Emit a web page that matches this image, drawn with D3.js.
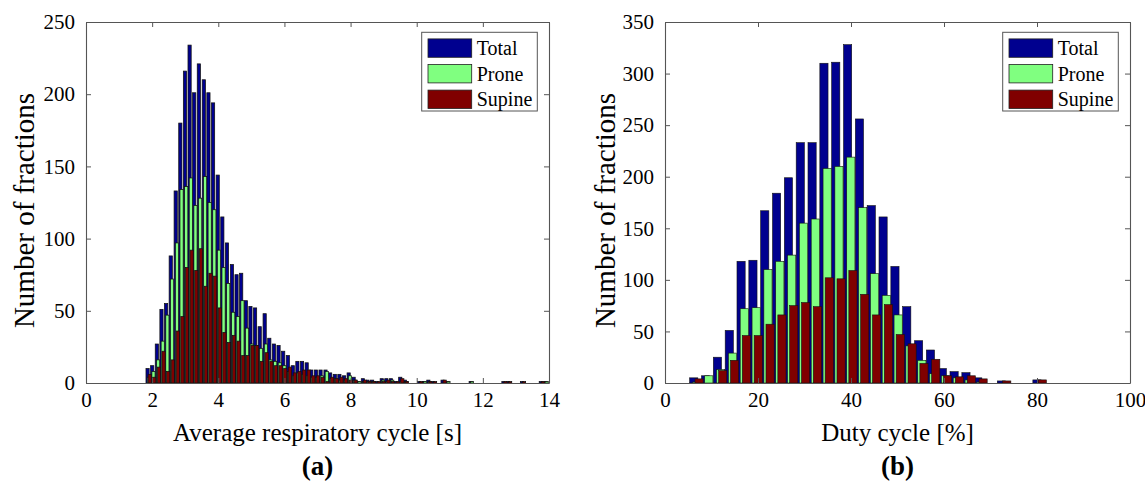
<!DOCTYPE html>
<html>
<head>
<meta charset="utf-8">
<script src="https://cdn.jsdelivr.net/npm/d3@7"></script>
<style>
  html, body { margin: 0; padding: 0; background: #fff; }
  svg { display: block; }
  text { font-family: "Liberation Serif", "Times New Roman", serif; fill: #000; }
</style>
</head>
<body>
<script>
// ---- Histogram of average respiratory cycle length (s) ----
const cycleCenters = [
  1.90, 2.04, 2.18, 2.32, 2.46, 2.60, 2.75, 2.89, 3.03, 3.17,
  3.31, 3.45, 3.60, 3.74, 3.88, 4.02, 4.16, 4.30, 4.45, 4.59,
  4.73, 4.87, 5.01, 5.15, 5.29, 5.44, 5.58, 5.72, 5.86, 6.00,
  6.14, 6.29, 6.43, 6.57, 6.71, 6.85, 6.99, 7.13, 7.28, 7.42,
  7.56, 7.70, 7.84, 7.98, 8.13, 8.27, 8.41, 8.55, 8.69, 8.83,
  8.98, 9.12, 9.26, 9.40, 9.54, 9.68, 9.83, 9.97, 10.11, 10.25,
  10.39, 10.53, 10.67, 10.82, 10.96, 11.10, 11.24, 11.38, 11.52, 11.67,
  11.81, 11.95, 12.09, 12.23, 12.37, 12.52, 12.66, 12.80, 12.94, 13.08,
  13.22, 13.36, 13.51, 13.65, 13.79, 13.93
];
const cycleTotal = [
  10, 12, 27, 51, 55, 88, 133, 180, 216, 234,
  201, 221, 210, 201, 194, 144, 115, 97, 82, 75,
  76, 57, 53, 52, 39, 48, 31, 27, 26, 22,
  19, 12, 15, 15, 14, 9, 9, 9, 9, 7,
  6, 6, 5, 7, 4, 1, 3, 2, 2, 1,
  3, 3, 3, 1, 4, 2, 0, 0, 1, 1,
  2, 1, 0, 2, 1, 0, 0, 0, 0, 1,
  0, 0, 0, 0, 0, 0, 1, 1, 0, 0,
  1, 0, 0, 0, 1, 1
];
const cycleProne = [
  4, 8, 16, 29, 47, 72, 97, 134, 136, 142,
  123, 128, 143, 125, 120, 92, 80, 69, 49, 46,
  57, 38, 27, 26, 24, 27, 16, 15, 14, 12,
  8, 5, 7, 6, 5, 4, 4, 5, 8, 3,
  3, 2, 2, 5, 2, 1, 1, 1, 1, 0,
  2, 1, 2, 0, 1, 1, 0, 0, 0, 1,
  1, 0, 0, 0, 1, 0, 0, 0, 0, 1,
  0, 0, 0, 0, 0, 0, 0, 0, 0, 0,
  0, 0, 0, 0, 0, 1
];
const cycleSupine = [
  6, 4, 11, 22, 8, 16, 36, 46, 80, 92,
  78, 93, 67, 76, 74, 52, 35, 28, 33, 29,
  19, 19, 26, 26, 15, 21, 15, 12, 12, 10,
  11, 7, 8, 9, 9, 5, 5, 4, 1, 4,
  3, 4, 3, 2, 2, 0, 2, 1, 1, 1,
  1, 2, 1, 1, 3, 1, 0, 0, 1, 0,
  1, 1, 0, 2, 0, 0, 0, 0, 0, 0,
  0, 0, 0, 0, 0, 0, 1, 1, 0, 0,
  1, 0, 0, 0, 1, 0
];

// ---- Histogram of duty cycle (%) ----
const dutyCenters = [
  6.87, 9.42, 11.96, 14.51, 17.05, 19.60, 22.14, 24.69, 27.23, 29.78,
  32.32, 34.87, 37.41, 39.96, 42.50, 45.05, 47.59, 50.14, 52.68, 55.23,
  57.77, 60.32, 62.86, 65.41, 67.95, 70.50, 73.04, 75.59, 78.13, 80.68
];
const dutyTotal = [
  5, 7, 25, 51, 118, 119, 167, 184, 199, 233,
  233, 310, 311, 328, 256, 172, 161, 113, 74, 41,
  32, 14, 11, 10, 5, 0, 2, 0, 0, 3
];
const dutyProne = [
  1, 7, 13, 29, 72, 73, 110, 118, 124, 155,
  159, 208, 210, 219, 170, 106, 85, 66, 36, 22,
  9, 7, 5, 3, 1, 0, 0, 0, 0, 0
];
const dutySupine = [
  4, 0, 12, 22, 46, 46, 57, 66, 75, 78,
  74, 102, 101, 109, 86, 66, 76, 47, 38, 19,
  23, 7, 6, 7, 4, 0, 2, 0, 0, 3
];

const seriesNames = ["Total", "Prone", "Supine"];
const seriesColors = ["#00008f", "#80ff80", "#800000"];

const cycleTicks = [0, 2, 4, 6, 8, 10, 12, 14];
const cycleCountTicks = [0, 50, 100, 150, 200, 250];
const dutyTicks = [0, 20, 40, 60, 80, 100];
const dutyCountTicks = [0, 50, 100, 150, 200, 250, 300, 350];

const W = 1145, H = 484;
const svg = d3.select("body").append("svg").attr("width", W).attr("height", H);

// Grouped bars: each series is shifted inside the bin and the bars overlap
const BAR_FRAC = 0.69;
const SERIES_SHIFT = [-0.27, 0, 0.18];

function panel(cfg) {
  const { left, right, top, bottom } = cfg.box;
  const x = d3.scaleLinear().domain(cfg.xDomain).range([left, right]);
  const y = d3.scaleLinear().domain(cfg.yDomain).range([bottom, top]);
  const g = svg.append("g");

  const step = x(cfg.centers[1]) - x(cfg.centers[0]);
  const bw = step * BAR_FRAC;

  // bars, series by series so later series sit on top
  cfg.series.forEach((vals, si) => {
    const rows = cfg.centers.map((c, i) => ({ c, v: vals[i] })).filter(d => d.v > 0);
    g.append("g").selectAll("rect").data(rows).join("rect")
      .attr("x", d => x(d.c) + SERIES_SHIFT[si] * step - bw / 2)
      .attr("y", d => y(d.v))
      .attr("width", bw)
      .attr("height", d => y(0) - y(d.v))
      .attr("fill", seriesColors[si])
      .attr("stroke", "#111")
      .attr("stroke-width", cfg.edge);
  });

  const tick = 5;
  const axisColor = "#555";

  // bottom axis with inward ticks
  const bottomAxis = d3.axisBottom(x).tickValues(cfg.xTicks).tickSizeInner(-tick).tickSizeOuter(0)
    .tickPadding(9).tickFormat(d3.format("d"));
  const gb = g.append("g").attr("transform", `translate(0,${bottom})`).call(bottomAxis);
  // top axis ticks (box)
  const topAxis = d3.axisTop(x).tickValues(cfg.xTicks).tickSizeInner(-tick).tickSizeOuter(0).tickFormat("");
  const gt = g.append("g").attr("transform", `translate(0,${top})`).call(topAxis);
  // left axis
  const leftAxis = d3.axisLeft(y).tickValues(cfg.yTicks).tickSizeInner(-tick).tickSizeOuter(0)
    .tickPadding(11).tickFormat(d3.format("d"));
  const gl = g.append("g").attr("transform", `translate(${left},0)`).call(leftAxis);
  const rightAxis = d3.axisRight(y).tickValues(cfg.yTicks).tickSizeInner(-tick).tickSizeOuter(0).tickFormat("");
  const gr = g.append("g").attr("transform", `translate(${right},0)`).call(rightAxis);

  [gb, gt, gl, gr].forEach(a => {
    a.select(".domain").attr("stroke", axisColor).attr("stroke-width", 1.1);
    a.selectAll(".tick line").attr("stroke", axisColor).attr("stroke-width", 1);
    a.selectAll(".tick text")
      .attr("font-family", '"Liberation Serif", "Times New Roman", serif')
      .attr("font-size", 21).attr("fill", "#000");
  });
  gb.selectAll(".tick text").attr("dy", "0.7em");

  // axis titles
  g.append("text")
    .attr("x", (left + right) / 2).attr("y", bottom + 58)
    .attr("text-anchor", "middle").attr("font-size", 25)
    .text(cfg.xTitle);
  g.append("text")
    .attr("transform", `translate(${cfg.yTitleX},${(top + bottom) / 2 + 8}) rotate(-90)`)
    .attr("text-anchor", "middle").attr("font-size", 29)
    .text(cfg.yTitle);

  // panel tag
  g.append("text")
    .attr("x", (left + right) / 2).attr("y", 475)
    .attr("text-anchor", "middle").attr("font-size", 27).attr("font-weight", "bold")
    .text(cfg.tag);

  // legend
  const lgW = 115.6, lgH = 78.7;
  const lgX = right - 11.7 - lgW, lgY = top + 10.3;
  const lg = g.append("g").attr("transform", `translate(${lgX},${lgY})`);
  lg.append("rect").attr("width", lgW).attr("height", lgH)
    .attr("fill", "#fff").attr("stroke", "#555").attr("stroke-width", 1);
  seriesNames.forEach((name, i) => {
    const cy = 15.8 + i * 25.6;
    lg.append("rect").attr("x", 6.3).attr("y", cy - 9.2).attr("width", 43.7).attr("height", 18.4)
      .attr("fill", seriesColors[i]).attr("stroke", "#222").attr("stroke-width", 0.8);
    lg.append("text").attr("x", 55).attr("y", cy).attr("dy", "0.35em")
      .attr("font-size", 20).text(name);
  });
}

panel({
  box: { left: 86, right: 549, top: 22, bottom: 383 },
  xDomain: [0, 14], yDomain: [0, 250],
  xTicks: cycleTicks, yTicks: cycleCountTicks,
  centers: cycleCenters,
  series: [cycleTotal, cycleProne, cycleSupine],
  edge: 0.75,
  xTitle: "Average respiratory cycle [s]",
  yTitle: "Number of fractions",
  yTitleX: 34,
  tag: "(a)"
});

panel({
  box: { left: 665, right: 1130, top: 22, bottom: 383 },
  xDomain: [0, 100], yDomain: [0, 350],
  xTicks: dutyTicks, yTicks: dutyCountTicks,
  centers: dutyCenters,
  series: [dutyTotal, dutyProne, dutySupine],
  edge: 0.6,
  xTitle: "Duty cycle [%]",
  yTitle: "Number of fractions",
  yTitleX: 615,
  tag: "(b)"
});
</script>
</body>
</html>
